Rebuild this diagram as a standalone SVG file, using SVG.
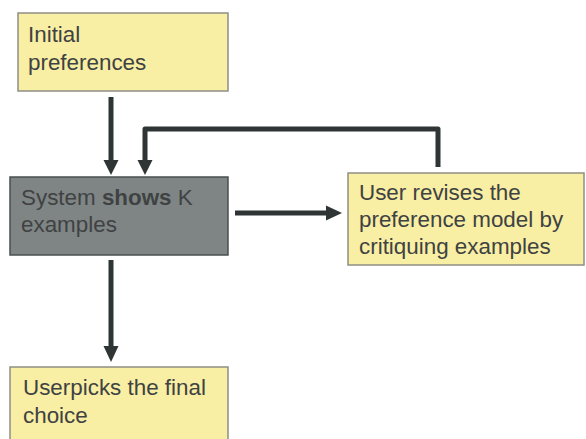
<svg xmlns="http://www.w3.org/2000/svg" width="586" height="439" viewBox="0 0 586 439">
<defs>
<style>
.note{fill:#f8eea4;stroke:#8e8e84;stroke-width:1.5}
.sys{fill:#7f8585;stroke:#4a4f4f;stroke-width:1.5}
.t{font-family:"Liberation Sans",Arial,sans-serif;font-size:22.4px;fill:#3f4242}
.c{fill:none;stroke:#2f3535;stroke-width:5}
.h{fill:#2f3535}
</style>
</defs>
<rect width="586" height="439" fill="#ffffff"/>
<g id="initial">
<rect class="note" x="18" y="13" width="210" height="78"/>
<text class="t" x="28" y="42">Initial</text>
<text class="t" x="28" y="70">preferences</text>
</g>
<g id="system">
<rect class="sys" x="10" y="177" width="218" height="78"/>
<text class="t" x="21" y="205">System <tspan font-weight="bold">shows</tspan> K</text>
<text class="t" x="21" y="232">examples</text>
</g>
<g id="revise">
<rect class="note" x="348" y="173" width="236" height="92"/>
<text class="t" x="359" y="200">User revises the</text>
<text class="t" x="359" y="227">preference model by</text>
<text class="t" x="359" y="254">critiquing examples</text>
</g>
<g id="final">
<rect class="note" x="10" y="367" width="218" height="80"/>
<text class="t" x="23" y="395">Userpicks the final</text>
<text class="t" x="23" y="423">choice</text>
</g>
<g id="connectors">
<path class="c" d="M111 97 V162"/>
<path class="h" d="M103.5 160 H118.5 L111 175 Z"/>
<path class="c" d="M438 167 V129 H145 V162" stroke-linejoin="round"/>
<path class="h" d="M137.5 160 H152.5 L145 175 Z"/>
<path class="c" d="M235 213 H328"/>
<path class="h" d="M326 205.5 V220.5 L342 213 Z"/>
<path class="c" d="M111 260 V348"/>
<path class="h" d="M103.5 346 H118.5 L111 362 Z"/>
</g>
</svg>
